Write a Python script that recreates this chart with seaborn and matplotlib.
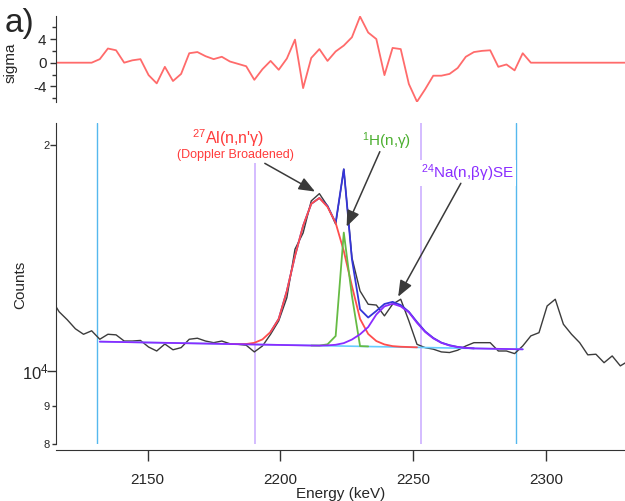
import numpy as np
import matplotlib
matplotlib.use("Agg")
import matplotlib.pyplot as plt
import matplotlib.ticker as mticker
import seaborn as sns

# ---- data ----
first_channel_kev = 2113.6
kev_per_channel = 3.062

counts = [12500, 12000, 11710, 11390, 11200,
          11320, 11030, 11200, 11180, 10970, 10970, 10990, 10770, 10640, 10870, 10680,
          10750, 11030, 11065, 10970, 10915, 10970, 10880, 10860, 10830, 10610,
          10805, 11200, 11670, 12530, 14540, 15280, 16860, 17240, 16600, 15700,
          18580, 14170, 12790, 12280, 12250, 11850, 12280, 12470, 11670, 10860,
          10750, 10700, 10610, 10590, 10665, 10805, 10915, 10915, 10915, 10640,
          10640, 10555, 10805, 11145, 11255, 12215, 12470, 11550, 11200, 10915,
          10515, 10535, 10265, 10480, 10165, 10320]

residual_sigma = [0, 0, 0, 0, 0,
                  0, 0.6, 2.4, 2.1, 0, 0.4, 0.6, -2.1, -3.5, -0.7, -3.1, -1.9, 1.6, 1.8,
                  1.1, 0.6, 1.0, 0.2, -0.2, -0.6, -2.9, -1.1, 0.3, -1.2, 0.7, 3.9, -4.3,
                  0.8, 2.3, 0.3, 1.9, 2.9, 4.3, 7.8, 5.1, 4.0, -2.1, 2.5, 2.3, -3.6, -6.6,
                  -4.5, -2.2, -2.2, -1.9, -0.9, 1.0, 1.8, 2.0, 2.1, -0.7, -0.3, -1.3, 1.6, 0,
                  0, 0, 0, 0, 0, 0, 0, 0, 0, 0, 0, 0]

# fit components: (first channel index into counts, values)
na_start = 6
na_fit = [10950, 10945, 10940, 10935, 10930, 10925, 10920, 10915, 10910, 10905,
          10900, 10895, 10890, 10885, 10880, 10875, 10870, 10865, 10860, 10855,
          10850, 10845, 10840, 10835, 10830, 10825, 10820, 10818, 10825, 10845,
          10900, 11020, 11200, 11450, 11900, 12200, 12300, 12200, 11980, 11600,
          11280, 11060, 10910, 10820, 10770, 10740, 10725, 10720, 10715, 10710,
          10705, 10700, 10695]
al_start = 22
al_fit = [10870, 10865, 10870, 10910, 11025, 11280, 11740, 12790, 14240, 15620,
          16710, 17010, 16550, 15760, 14460, 12990, 11740, 11210, 10970, 10856,
          10800, 10780, 10770, 10760]
h_start = 32
h_fit = [10820, 10818, 10860, 11140, 15300, 12600, 10800, 10790]
total_start = 27
total_fit = [11280, 11740, 12790, 14240, 15620, 16710, 17010, 16600, 15760, 18580,
             14100, 12090, 11790, 12030, 12290, 12370, 12250, 12000, 11630, 11300,
             11075, 10916, 10830, 10773, 10741, 10725]
background_kev = [2131.97, 2291.2]
background_counts = [10950, 10695]

fit_window_kev = [2131.0, 2288.7]
region_kev = [2190.4, 2252.9]

energy = first_channel_kev + kev_per_channel * np.arange(len(counts))

# ---- style ----
sns.set_style("ticks")
plt.rcParams['font.family'] = ['Liberation Sans', 'DejaVu Sans']
plt.rcParams['mathtext.fontset'] = 'custom'
plt.rcParams['mathtext.rm'] = 'Liberation Sans'
plt.rcParams['mathtext.it'] = 'Liberation Sans:italic'
plt.rcParams['axes.unicode_minus'] = False

fig = plt.figure(figsize=(6.25, 5.01), dpi=100)
ax_top = fig.add_axes([0.0888, 0.7958, 0.9112, 0.1723])
ax = fig.add_axes([0.0888, 0.1138, 0.9112, 0.6401])
xlim = (2115.3, 2329.7)

# ---- residual panel ----
sns.lineplot(x=energy, y=residual_sigma, ax=ax_top, color='#ff6b6b', lw=1.3,
             estimator=None, sort=False)
ax_top.set_xlim(xlim)
ax_top.set_ylim(-6.7, 7.9)
for s in ['top', 'right', 'bottom']:
    ax_top.spines[s].set_visible(False)
ax_top.spines['left'].set_color('#333333')
ax_top.set_xticks([])
ax_top.set_yticks([-4, 0, 4])
ax_top.set_yticklabels(['-4', '0', '4'])
ax_top.yaxis.set_minor_locator(mticker.FixedLocator([-6, -2, 2, 6]))
ax_top.tick_params(axis='y', which='major', length=4.5, width=1, labelsize=11,
                   color='#333333', pad=2)
ax_top.tick_params(axis='y', which='minor', length=3, width=1, color='#333333')
ax_top.set_ylabel('sigma', fontsize=11)
ax_top.yaxis.set_label_coords(-0.066, 0.455)

# ---- spectrum panel ----
for x in fit_window_kev:
    ax.axvline(x, color='#55b8ee', lw=1.0, zorder=1)
for x in region_kev:
    ax.axvline(x, color='#cdb0ff', lw=1.2, zorder=1)

sns.lineplot(x=energy, y=counts, ax=ax, color='#3c3c3c', lw=1.0,
             estimator=None, sort=False, zorder=2)
sns.lineplot(x=background_kev, y=background_counts, ax=ax, color='#66ccff', lw=1.2,
             estimator=None, sort=False, zorder=3)
sns.lineplot(x=energy[total_start:total_start + len(total_fit)], y=total_fit, ax=ax,
             color='#3535d8', lw=1.3, estimator=None, sort=False, zorder=4)
sns.lineplot(x=energy[al_start:al_start + len(al_fit)], y=al_fit, ax=ax,
             color='#ff4d4d', lw=1.3, estimator=None, sort=False, zorder=5)
sns.lineplot(x=energy[h_start:h_start + len(h_fit)], y=h_fit, ax=ax,
             color='#66bb44', lw=1.3, estimator=None, sort=False, zorder=6)
sns.lineplot(x=energy[na_start:na_start + len(na_fit)], y=na_fit, ax=ax,
             color='#8a2cff', lw=1.3, estimator=None, sort=False, zorder=7)

ax.set_yscale('log')
ax.set_xlim(xlim)
ax.set_ylim(8000, 21390)
ax.set_yticks([8000, 9000, 10000, 20000])
ax.set_yticklabels(['8', '9', r'$\mathregular{10^4}$', '2'])
ax.yaxis.set_minor_locator(mticker.NullLocator())
ax.yaxis.set_minor_formatter(mticker.NullFormatter())
ax.tick_params(axis='y', which='major', length=3, width=1, color='#333333', pad=1.5)
tick_len = [3, 3, 6.5, 4.5]
tick_fs = [8, 8, 12, 8]
for t, ln, fs in zip(ax.yaxis.get_major_ticks(), tick_len, tick_fs):
    t.tick1line.set_markersize(ln)
    t.label1.set_fontsize(fs)

ax.set_xticks([2150, 2200, 2250, 2300])
ax.tick_params(axis='x', length=8, width=1, color='#333333', labelsize=11, pad=8.5)
ax.spines['bottom'].set_position(('outward', 4.5))
for s in ['top', 'right']:
    ax.spines[s].set_visible(False)
for s in ['left', 'bottom']:
    ax.spines[s].set_color('#333333')
ax.set_xlabel('Energy (keV)', fontsize=11, labelpad=0)
ax.set_ylabel('Counts', fontsize=11)
ax.yaxis.set_label_coords(-0.05, 0.496)

# ---- labels and arrows ----
ax.text(2180.3, 20446, "$^{\\mathregular{27}}$Al(n,n'\u03b3)", color='#ff3b3b',
        fontsize=11.5, ha='center', va='center',
        bbox=dict(fc='white', ec='none', pad=5), zorder=10)
ax.text(2182.9, 19410, '(Doppler Broadened)', color='#ff3b3b', fontsize=9,
        ha='center', va='center', bbox=dict(fc='white', ec='none', pad=1.5), zorder=10)
ax.text(2240.0, 20217, "$^{\\mathregular{1}}$H(n,\u03b3)", color='#4caf30',
        fontsize=11, ha='center', va='center',
        bbox=dict(fc='white', ec='none', pad=1.5), zorder=10)
ax.text(2270.5, 18369, "$^{\\mathregular{24}}$Na(n,\u03b2\u03b3)SE", color='#8a2cff',
        fontsize=11, ha='center', va='center',
        bbox=dict(fc='white', ec='none', pad=1.5), zorder=10)

arrow = dict(arrowstyle='-|>,head_length=0.7,head_width=0.28', color='#3a3a3a',
             lw=1.1, shrinkA=0, shrinkB=0, mutation_scale=14)
ax.annotate('', xy=(2213.0, 17350), xytext=(2194.1, 18918), arrowprops=arrow, zorder=11)
ax.annotate('', xy=(2224.9, 15580), xytext=(2237.4, 19608), arrowprops=arrow, zorder=11)
ax.annotate('', xy=(2244.3, 12568), xytext=(2267.9, 17795), arrowprops=arrow, zorder=11)

fig.text(5 / 625, 1 - 32 / 501, 'a)', fontsize=24, va='baseline', ha='left')

fig.savefig('out.png', dpi=100)
